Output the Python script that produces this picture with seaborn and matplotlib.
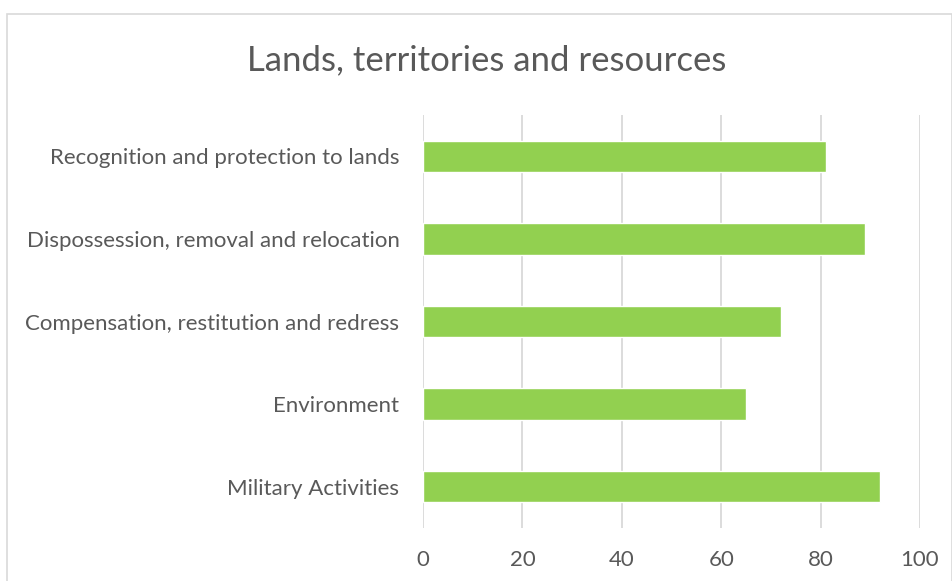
import matplotlib
matplotlib.use('Agg')
import matplotlib.pyplot as plt
import seaborn as sns
import pandas as pd
from matplotlib.patches import Rectangle

categories = ['Recognition and protection to lands',
              'Dispossession, removal and relocation',
              'Compensation, restitution and redress',
              'Environment',
              'Military Activities']
values = [81, 89, 72, 65, 92]
ticks = [0, 20, 40, 60, 80, 100]

df = pd.DataFrame({'category': categories, 'value': values})

sns.set_style('white')
plt.rcParams['font.family'] = ['Lato', 'DejaVu Sans']
text_color = '#595959'

fig = plt.figure(figsize=(9.53, 5.81), dpi=100)
ax = fig.add_axes([423 / 953, 1 - 528 / 581, 497 / 953, 413 / 581])

sns.barplot(data=df, x='value', y='category', color='#92D050', width=0.38,
            saturation=1, ax=ax, zorder=3)

ax.set_xlim(0, 100)
ax.set_xticks(ticks)
ax.set_xticklabels([str(t) for t in ticks], fontsize=16, color=text_color)
ax.tick_params(axis='x', length=0, pad=16)
ax.tick_params(axis='y', length=0, pad=17, labelsize=16, labelcolor=text_color)
ax.grid(axis='x', color='#D9D9D9', linewidth=1.3, zorder=0)
ax.set_xlabel('')
ax.set_ylabel('')
sns.despine(ax=ax, left=True, bottom=True)

fig.text(487 / 953, 1 - 60 / 581, 'Lands, territories and resources',
         ha='center', va='center', fontsize=25, color=text_color)

fig.patches.append(Rectangle((7 / 953, -0.05), 945 / 953, 1.05 - 14 / 581,
                             transform=fig.transFigure, fill=False,
                             edgecolor='#D9D9D9', linewidth=1.2))

fig.savefig('out.png', dpi=100)
